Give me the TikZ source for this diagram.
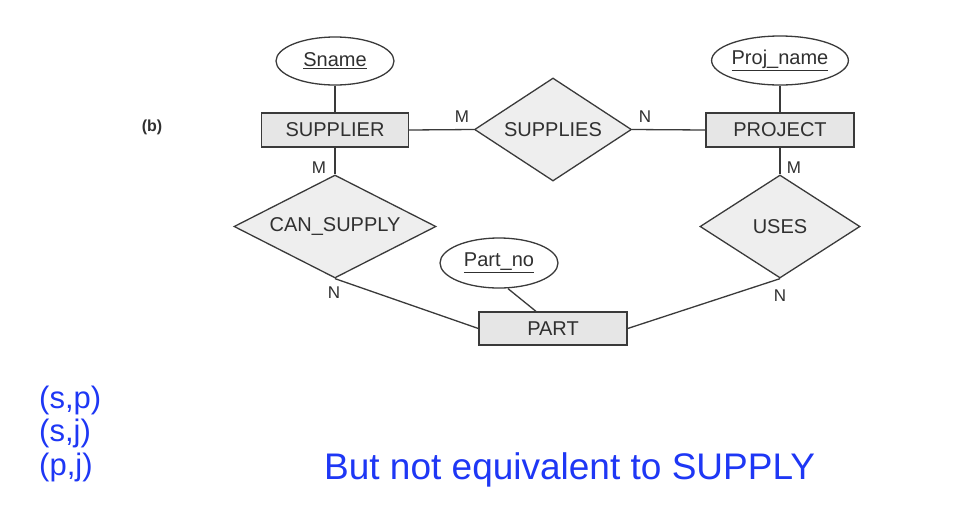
\documentclass[tikz,border=0pt]{standalone}
\usepackage{fontspec}
\setmainfont{Liberation Sans}
\usetikzlibrary{shapes.geometric}
\definecolor{ln}{HTML}{3A3A3A}
\definecolor{tx}{HTML}{303030}
\definecolor{rfill}{HTML}{E6E6E6}
\definecolor{dfill}{HTML}{EEEEEE}
\definecolor{bl}{RGB}{30,55,245}
\tikzset{
  every node/.style={text=tx, inner sep=0pt},
  conn/.style={draw=ln, line width=1.3pt},
  entity/.style={rectangle, draw=ln, fill=rfill, line width=1.3pt, font=\fontsize{20}{24}\selectfont},
  rel/.style={diamond, aspect=2, draw=ln, fill=dfill, line width=1.3pt, font=\fontsize{20}{24}\selectfont},
  attr/.style={ellipse, draw=ln, fill=white, line width=1.3pt, font=\fontsize{20}{24}\selectfont},
  card/.style={font=\fontsize{17}{20}\selectfont},
  note/.style={text=bl, anchor=base west, font=\fontsize{31}{36}\selectfont},
}
\begin{document}
\begin{tikzpicture}[x=1pt, y=-1pt]
\useasboundingbox[fill=white] (0,0) rectangle (964,520);

% entities
\node[entity, minimum width=147pt, minimum height=34pt] (supplier) at (335,130) {SUPPLIER};
\node[entity, minimum width=148pt, minimum height=34pt] (project) at (780,130) {PROJECT};
\node[entity, minimum width=148pt, minimum height=33pt] (part) at (553,328.5) {PART};

% relationships
\node[rel, minimum width=157pt, minimum height=103pt] (supplies) at (553,129.5) {SUPPLIES};
\node[rel, minimum width=202pt, minimum height=103pt] (cansupply) at (335,226.5) {CAN\_SUPPLY};
\node[rel, minimum width=160pt, minimum height=103pt] (uses) at (780,226.5) {USES};

% attributes
\node[attr, minimum width=118pt, minimum height=48pt] (sname) at (335,61) {\underline{Sname}};
\node[attr, minimum width=118pt, minimum height=49pt] (projname) at (780,60.5) {\underline{Proj\_name}};
\node[attr, minimum width=118pt, minimum height=50pt] (partno) at (499,263) {\underline{Part\_no}};

% connectors
\draw[conn] (sname.south) -- (supplier.north);
\draw[conn] (projname.south) -- (project.north);
\draw[conn] (supplier.east) -- (supplies.west);
\draw[conn] (supplies.east) -- (project.west);
\draw[conn] (supplier.south) -- (cansupply.north);
\draw[conn] (project.south) -- (uses.north);
\draw[conn] (cansupply.south) -- (part.west);
\draw[conn] (part.east) -- (uses.south);
\draw[conn] ([xshift=9pt]partno.south) -- ([xshift=-17pt]part.north);

% cardinalities
\node[card] (c1) at (462,117) {M};
\node[card] (c2) at (645,117) {N};
\node[card] (c3) at (319,168) {M};
\node[card] (c4) at (794,168) {M};
\node[card] (c5) at (334,293) {N};
\node[card] (c6) at (780,296) {N};

% label
\node[font=\fontsize{16}{19}\selectfont\bfseries] (b) at (152,127) {(b)};

% notes
\node[note] (n1) at (39,408) {(s,p)};
\node[note] (n2) at (39,441) {(s,j)};
\node[note] (n3) at (39,475) {(p,j)};
\node[note, font=\fontsize{37}{42}\selectfont] (n4) at (324,479) {But not equivalent to SUPPLY};
\end{tikzpicture}
\end{document}
